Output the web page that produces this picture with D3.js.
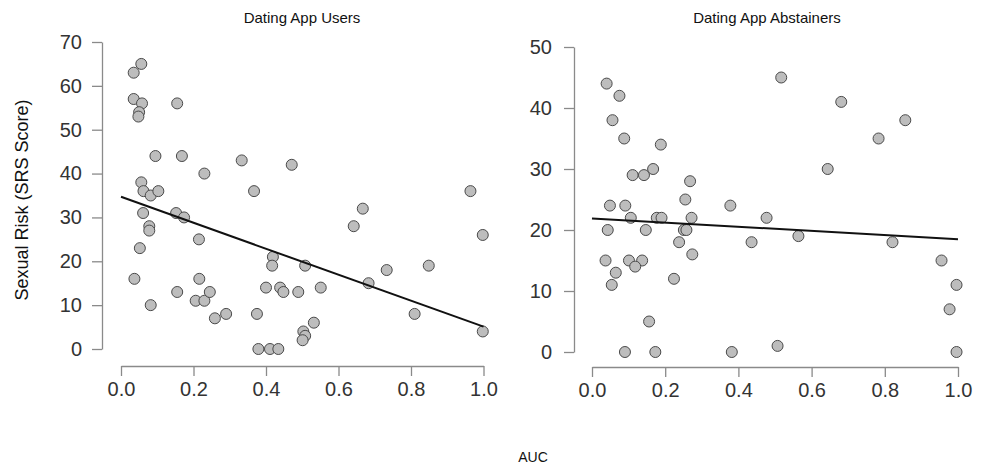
<!DOCTYPE html>
<html><head><meta charset="utf-8">
<script src="https://cdn.jsdelivr.net/npm/d3@7"></script>
<style>
body{margin:0;background:#fff;}
text{font-family:"Liberation Sans",Arial,sans-serif;}
</style></head>
<body><svg id="c" width="984" height="467"></svg>
<script>
// Panel titles and axis labels
const panelTitles = ["Dating App Users", "Dating App Abstainers"];
const xLabel = "AUC";
const yLabel = "Sexual Risk (SRS Score)";
const xTicks = [0, 0.2, 0.4, 0.6, 0.8, 1.0];
const yTicksUsers = [0, 10, 20, 30, 40, 50, 60, 70];
const yTicksAbstainers = [0, 10, 20, 30, 40, 50];

// Dating App Users: AUC and SRS score
const usersAUC = [0.035,0.056,0.035,0.058,0.050,0.048,0.155,0.095,0.168,0.333,0.471,0.230,0.056,0.062,0.082,0.103,0.367,0.964,0.061,0.152,0.174,0.078,0.078,0.215,0.052,0.037,0.216,0.155,0.082,0.206,0.230,0.245,0.259,0.290,0.375,0.400,0.439,0.448,0.489,0.419,0.417,0.379,0.411,0.434,0.667,0.998,0.642,0.733,0.849,0.508,0.683,0.551,0.810,0.532,0.503,0.508,0.501,0.998];
const usersSRS = [63,65,57,56,54,53,56,44,44,43,42,40,38,36,35,36,36,36,31,31,30,28,27,25,23,16,16,13,10,11,11,13,7,8,8,14,14,13,13,21,19,0,0,0,32,26,28,18,19,19,15,14,8,6,4,3,2,4];
const usersFit = [34.7, -29.6]; // intercept, slope

// Dating App Abstainers: AUC and SRS score
const abstAUC = [0.040,0.075,0.056,0.088,0.188,0.111,0.142,0.167,0.268,0.255,0.049,0.091,0.378,0.106,0.177,0.190,0.272,0.043,0.147,0.251,0.258,0.238,0.436,0.274,0.037,0.101,0.137,0.118,0.065,0.054,0.224,0.156,0.090,0.173,0.382,0.517,0.681,0.856,0.783,0.644,0.477,0.564,0.821,0.955,0.996,0.977,0.507,0.996];
const abstSRS = [44,42,38,35,34,29,29,30,28,25,24,24,24,22,22,22,22,20,20,20,20,18,18,16,15,15,15,14,13,11,12,5,0,0,0,45,41,38,35,30,22,19,18,15,11,7,1,0];
const abstFit = [21.9, -3.4];

const svg = d3.select("#c");

const panels = [
  {title: panelTitles[0], xs: usersAUC, ys: usersSRS, fit: usersFit, yTicks: yTicksUsers,
   x: d3.scaleLinear().domain([0,1]).range([121,483.5]),
   y: d3.scaleLinear().domain([0,70]).range([349,42]), axX: 102, axY: 366, tx: 302, ypad: 10},
  {title: panelTitles[1], xs: abstAUC, ys: abstSRS, fit: abstFit, yTicks: yTicksAbstainers,
   x: d3.scaleLinear().domain([0,1]).range([592,958]),
   y: d3.scaleLinear().domain([0,50]).range([352,47]), axX: 574, axY: 367, tx: 767, ypad: 12}
];

panels.forEach(p => {
  const g = svg.append("g");
  const ya = g.append("g").attr("transform", `translate(${p.axX},0)`)
    .call(d3.axisLeft(p.y).tickValues(p.yTicks).tickFormat(d3.format("d")).tickSize(10).tickSizeOuter(0).tickPadding(p.ypad));
  const xa = g.append("g").attr("transform", `translate(0,${p.axY})`)
    .call(d3.axisBottom(p.x).tickValues(xTicks).tickFormat(d3.format(".1f")).tickSize(10).tickSizeOuter(0).tickPadding(6));
  [ya, xa].forEach(a => {
    a.select(".domain").attr("stroke", "#8a8a8a").attr("stroke-width", 1.3);
    a.selectAll(".tick line").attr("stroke", "#8a8a8a").attr("stroke-width", 1.3);
    a.selectAll(".tick text").attr("fill", "#333").style("font-size", "20px");
  });
  g.append("g").selectAll("circle").data(p.xs.map((v,i)=>[v,p.ys[i]])).join("circle")
    .attr("cx", d => p.x(d[0])).attr("cy", d => p.y(d[1])).attr("r", 5.5)
    .attr("fill", "#bdbdbd").attr("stroke", "#4a4a4a").attr("stroke-width", 1);
  g.append("line")
    .attr("x1", p.x(0)).attr("y1", p.y(p.fit[0]))
    .attr("x2", p.x(1)).attr("y2", p.y(p.fit[0] + p.fit[1]))
    .attr("stroke", "#111").attr("stroke-width", 2);
  g.append("text").attr("x", p.tx).attr("y", 23).attr("text-anchor", "middle")
    .style("font-size", "15px").attr("fill", "#111").text(p.title);
});

svg.append("text").attr("x", 533).attr("y", 462).attr("text-anchor", "middle")
  .style("font-size", "14px").attr("fill", "#111").text(xLabel);
svg.append("text").attr("transform", "translate(28,200) rotate(-90)").attr("text-anchor", "middle")
  .style("font-size", "18px").attr("fill", "#111").text(yLabel);
</script></body></html>
